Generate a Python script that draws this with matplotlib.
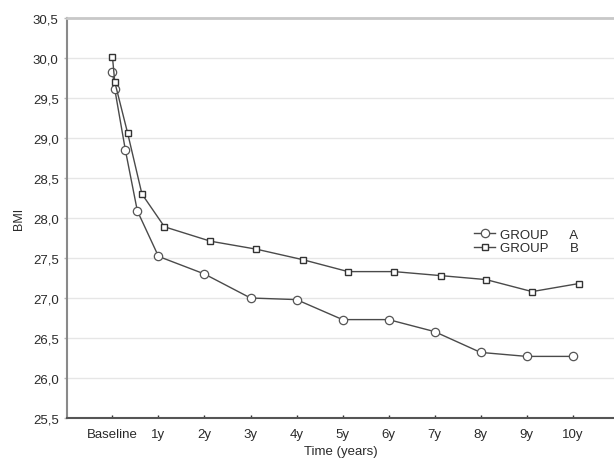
import matplotlib
matplotlib.use("Agg")
import matplotlib.pyplot as plt
from matplotlib.ticker import FuncFormatter

plt.rcParams['font.family'] = ['Liberation Sans', 'DejaVu Sans']

# time points (years)
time_a = [0, 0.05, 0.28, 0.54, 1, 2, 3, 4, 5, 6, 7, 8, 9, 10]
time_b = [0, 0.05, 0.33, 0.64, 1.13, 2.13, 3.13, 4.13, 5.12, 6.12, 7.13, 8.12, 9.12, 10.13]

bmi_a = [29.83, 29.61, 28.85, 28.09, 27.52, 27.30, 27.00, 26.98, 26.73, 26.73, 26.58, 26.32, 26.27, 26.27]
bmi_b = [30.01, 29.70, 29.06, 28.30, 27.89, 27.71, 27.61, 27.48, 27.33, 27.33, 27.28, 27.23, 27.08, 27.18]

tick_pos = list(range(11))
tick_labels = ["Baseline"] + [f"{i}y" for i in range(1, 11)]
y_ticks = [25.5, 26.0, 26.5, 27.0, 27.5, 28.0, 28.5, 29.0, 29.5, 30.0, 30.5]

fig = plt.figure(figsize=(6.14, 4.64), dpi=100)
ax = fig.add_axes([0.109, 0.097, 0.891, 0.862])

line_col = "#4a4a4a"
ax.plot(time_a, bmi_a, color=line_col, lw=1.0, marker="o", ms=6, mfc="white",
        mec="#555555", mew=0.9, label="GROUP      A", zorder=3)
ax.plot(time_b, bmi_b, color=line_col, lw=1.0, marker="s", ms=4, mfc="white",
        mec="#333333", mew=1.0, label="GROUP      B", zorder=3)

ax.set_xlim(-0.99, 10.9)
ax.set_ylim(25.5, 30.5)
ax.set_xticks(tick_pos)
ax.set_xticklabels(tick_labels)
ax.set_yticks(y_ticks)
ax.yaxis.set_major_formatter(FuncFormatter(lambda v, p: f"{v:.1f}".replace(".", ",")))

ax.grid(axis="y", color="#e6e6e6", lw=1.0)
ax.set_axisbelow(True)

ax.spines["right"].set_visible(False)
ax.spines["top"].set_color("#c8c8c8")
ax.spines["top"].set_linewidth(2.0)
ax.spines["left"].set_color("#8a8a8a")
ax.spines["left"].set_linewidth(1.5)
ax.spines["bottom"].set_color("#555555")
ax.spines["bottom"].set_linewidth(1.5)

ax.tick_params(axis="x", direction="in", length=2, width=1, color="#333333",
               labelsize=9.5, labelcolor="#2a2a2a", pad=7)
ax.tick_params(axis="y", direction="out", length=2, width=1, color="#bbbbbb",
               labelsize=9.5, labelcolor="#2a2a2a", pad=4)

ax.set_xlabel("Time (years)", fontsize=9.5, color="#2a2a2a", labelpad=4)
ax.set_ylabel("BMI", fontsize=9, color="#2a2a2a", labelpad=6)

leg = ax.legend(loc="upper left", bbox_to_anchor=(0.732, 0.49), frameon=False,
                fontsize=9.5, handlelength=1.6, handletextpad=0.4,
                labelspacing=0.1, borderpad=0)
for t in leg.get_texts():
    t.set_color("#2a2a2a")

fig.savefig("out.png", dpi=100)
